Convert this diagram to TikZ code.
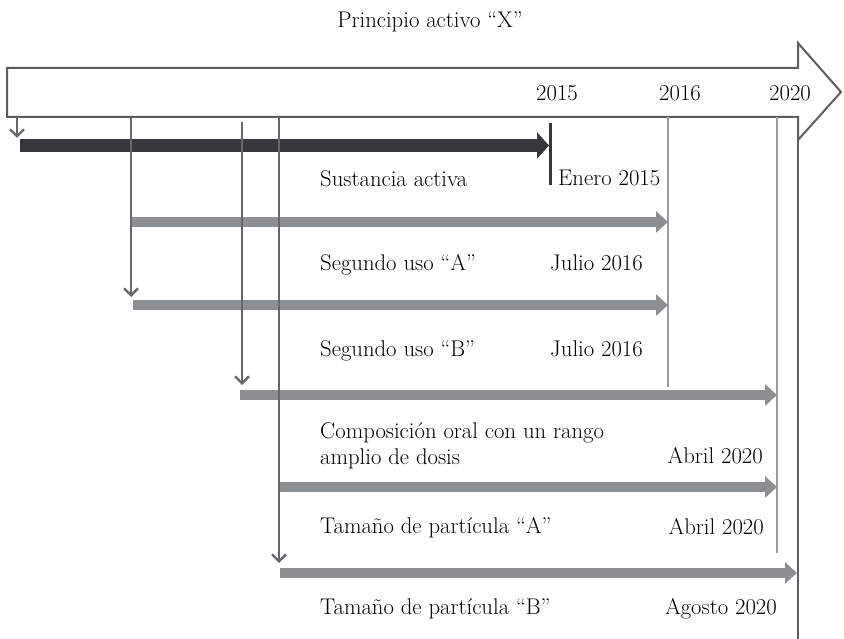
\documentclass[tikz,border=0pt]{standalone}
\usepackage{tikz}
\usetikzlibrary{arrows.meta, calc}

\definecolor{grisborde}{HTML}{5C5D60}
\definecolor{negrofase}{HTML}{38373B}
\definecolor{grisfase}{HTML}{8B8F91}
\definecolor{grislinea}{HTML}{66676A}
\definecolor{grisclaro}{HTML}{9C9D9F}

\tikzset{
	lbl/.style={font=\fontsize{22.7}{26}\selectfont, inner sep=0pt, text height=15pt, text depth=3pt},
	fase/.style={line width=10.5pt, draw=grisfase, -{Triangle[width=21pt,length=12pt]}},
	baja/.style={line width=2.2pt, draw=grislinea, -{Straight Barb[length=7pt,width=14pt,line width=2.4pt]}}
}

\begin{document}
\begin{tikzpicture}[x=1pt,y=-1pt]
	\useasboundingbox (0,0) rectangle (844,639);

	% eje del tiempo
	\node[lbl] (titulo) at (430,22) {Principio activo ``X''};
	\draw[grisborde, line width=2pt, fill=white] (7,68) -- (798,68) -- (798,43) -- (841,92) -- (798,140) -- (798,117) -- (7,117) -- cycle;
	\node[lbl] (a2015) at (557,95) {2015};
	\node[lbl] (a2016) at (680,95) {2016};
	\node[lbl] (a2020) at (790,95) {2020};

	% lineas de fecha
	\coordinate (l16a) at (668,117);
	\coordinate (l16b) at (668,387);
	\coordinate (l20a) at (777,117);
	\coordinate (l20b) at (777,553);
	\coordinate (l20c) at (798,140);
	\coordinate (l20d) at (798,639);
	\draw[grisclaro, line width=1.2pt] (l16a) -- (l16b);
	\draw[grisclaro, line width=1.5pt] (l20a) -- (l20b);
	\draw[grisborde, line width=2pt] (l20c) -- (l20d);

	% sustancia activa
	\coordinate (s0) at (20,145.5);
	\coordinate (s1) at (549,145.5);
	\draw[negrofase, line width=13pt, -{Triangle[width=26pt,length=12pt]}] (s0) -- (s1);
	\coordinate (e0) at (550,123);
	\coordinate (e1) at (550,185);
	\draw[negrofase, line width=3pt] (e0) -- (e1);

	% fases
	\coordinate (f1a) at (131,222);
	\coordinate (f1b) at (668,222);
	\coordinate (f2a) at (133,305);
	\coordinate (f2b) at (668,305);
	\coordinate (f3a) at (240,395);
	\coordinate (f3b) at (777,395);
	\coordinate (f4a) at (280,487);
	\coordinate (f4b) at (777,487);
	\coordinate (f5a) at (280,573);
	\coordinate (f5b) at (797,573);
	\draw[fase] (f1a) -- (f1b);
	\draw[fase] (f2a) -- (f2b);
	\draw[fase] (f3a) -- (f3b);
	\draw[fase] (f4a) -- (f4b);
	\draw[fase] (f5a) -- (f5b);

	% flechas hacia abajo
	\coordinate (b0a) at (17,117);
	\coordinate (b0b) at (17,138);
	\coordinate (b1a) at (131,117);
	\coordinate (b1b) at (131,297);
	\coordinate (b2a) at (242,122);
	\coordinate (b2b) at (242,385);
	\coordinate (b3a) at (279,117);
	\coordinate (b3b) at (279,563);
	\draw[baja] (b0a) -- (b0b);
	\draw[baja] (b1a) -- (b1b);
	\draw[baja] (b2a) -- (b2b);
	\draw[baja] (b3a) -- (b3b);

	% textos
	\node[lbl, anchor=west] (sust) at (320,181) {Sustancia activa};
	\node[lbl, anchor=west] (enero) at (558,180) {Enero 2015};
	\node[lbl, anchor=west] (usoA) at (320,265) {Segundo uso ``A''};
	\node[lbl, anchor=east] (julioA) at (643,265) {Julio 2016};
	\node[lbl, anchor=west] (usoB) at (320,350) {Segundo uso ``B''};
	\node[lbl, anchor=east] (julioB) at (643,350) {Julio 2016};
	\node[lbl, anchor=west] (comp) at (320,432) {Composición oral con un rango};
	\node[lbl, anchor=west] (dosis) at (320,458) {amplio de dosis};
	\node[lbl, anchor=east] (abrilC) at (763,457) {Abril 2020};
	\node[lbl, anchor=west] (partA) at (320,527) {Tamaño de partícula ``A''};
	\node[lbl, anchor=east] (abrilA) at (764,528) {Abril 2020};
	\node[lbl, anchor=west] (partB) at (320,608) {Tamaño de partícula ``B''};
	\node[lbl, anchor=east] (agosto) at (777,608) {Agosto 2020};
\end{tikzpicture}
\end{document}
